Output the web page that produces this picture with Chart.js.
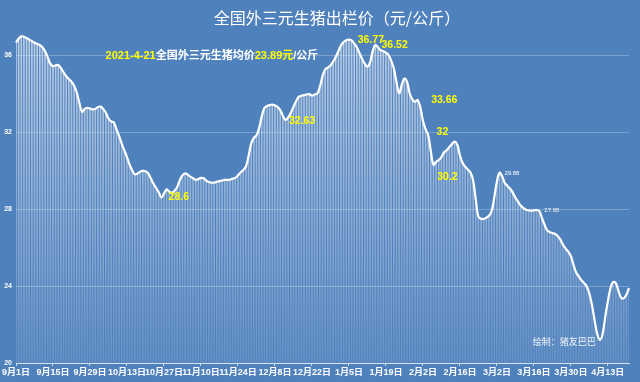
<!DOCTYPE html>
<html><head><meta charset="utf-8">
<script src="https://cdn.jsdelivr.net/npm/chart.js@4.4.1/dist/chart.umd.min.js"></script>
<style>html,body{margin:0;padding:0;background:#4f81bd;}canvas{display:block;}</style>
</head><body>
<canvas id="c" width="640" height="382"></canvas>
<script>
// Daily price series, 2020-09-01 .. 2021-04-21 (元/公斤)
const prices = [
  36.65, 36.85, 36.97, 36.95, 36.88, 36.8, 36.72, 36.64, 36.58, 36.52,
  36.4, 36.2, 35.88, 35.55, 35.42, 35.46, 35.48, 35.32, 35.1, 34.9,
  34.75, 34.62, 34.4, 34.05, 33.5, 33.05, 33.2, 33.26, 33.22, 33.18,
  33.2, 33.3, 33.32, 33.2, 33.0, 32.7, 32.55, 32.5, 32.15, 31.8,
  31.4, 31.05, 30.7, 30.3, 30.0, 29.8, 29.85, 29.94, 29.98, 29.96,
  29.86, 29.6, 29.33, 29.1, 28.88, 28.6, 28.8, 29.02, 28.9, 28.85,
  28.95, 29.15, 29.5, 29.75, 29.85, 29.78, 29.68, 29.6, 29.52, 29.55,
  29.62, 29.6, 29.48, 29.4, 29.37, 29.37, 29.42, 29.45, 29.48, 29.51,
  29.51, 29.52, 29.58, 29.62, 29.75, 29.9, 30.02, 30.2, 30.75, 31.4,
  31.7, 31.82, 32.2, 32.8, 33.25, 33.35, 33.4, 33.42, 33.38, 33.3,
  33.14, 32.85, 32.63, 32.75, 33.0, 33.3, 33.6, 33.83, 33.88, 33.92,
  33.95, 33.97, 33.89, 33.95, 34.0, 34.35, 34.9, 35.25, 35.35, 35.45,
  35.65, 35.9, 36.2, 36.5, 36.68, 36.77, 36.8, 36.76, 36.6, 36.4,
  36.1, 35.8, 35.55, 35.4, 35.62, 36.2, 36.52, 36.4, 36.25, 36.2,
  36.12, 36.0, 35.7, 35.3, 34.6, 34.02, 34.45, 34.78, 34.6, 34.0,
  33.7, 33.57, 33.66, 33.3, 32.6, 32.15, 31.85, 31.0, 30.3, 30.45,
  30.55, 30.7, 30.95, 31.05, 31.22, 31.38, 31.5, 31.35, 30.8, 30.4,
  30.2, 30.05, 29.9, 29.5, 28.5, 27.6, 27.5, 27.48, 27.55, 27.65,
  27.9, 28.6, 29.42, 29.88, 29.7, 29.35, 29.2, 29.05, 28.85, 28.6,
  28.38, 28.18, 28.05, 27.96, 27.93, 27.92, 27.93, 27.95, 27.9, 27.55,
  27.2, 26.9, 26.8, 26.75, 26.7, 26.6, 26.42, 26.15, 25.95, 25.78,
  25.55, 25.1, 24.7, 24.5, 24.3, 24.15, 23.98, 23.6, 23.0, 22.2,
  21.5, 21.2, 21.5, 22.4, 23.2, 23.9, 24.2, 24.15, 23.75, 23.4,
  23.36, 23.55, 23.89
];
const tickLabels = ['9月1日','9月15日','9月29日','10月13日','10月27日','11月10日','11月24日','12月8日','12月22日','1月5日','1月19日','2月2日','2月16日','3月2日','3月16日','3月30日','4月13日'];
const tickEvery = 14;
const categories = prices.map((_, i) => {
  const d = new Date(2020, 8, 1 + i);
  return (d.getMonth() + 1) + '月' + d.getDate() + '日';
});
const yMin = 20, yMax = 37.3, yStep = 4;
const titleText = '全国外三元生猪出栏价（元/公斤）';
const YEL = '#ffff00', WHT = '#ffffff';
const noteParts = [['2021-4-21', YEL], ['全国外三元生猪均价', WHT], ['23.89元', YEL], ['/公斤', WHT]];
const noteAnchor = {i: 33.9, v: 35.94};
// value labels: [text, day-index anchor (centre), value anchor, colour, size]
const valueLabels = [
  ['36.77', 134.3, 36.78, YEL, 10.5],
  ['36.52', 143.3, 36.52, YEL, 10.5],
  ['32.63', 108.3, 32.57, YEL, 10.5],
  ['33.66', 162.1, 33.66, YEL, 10.5],
  ['32',    161.4, 32.0,  YEL, 10.5],
  ['30.2',  163.3, 29.66, YEL, 10.5],
  ['28.6',   61.6, 28.6,  YEL, 10.5],
  ['29.88', 187.7, 29.87, WHT, 6],
  ['27.95', 202.8, 27.95, WHT, 6]
];
const creditText = '绘制：猪友巴巴';
const creditAnchor = {i: 195.6, v: 21.09};

const NUMF = '"Liberation Sans", "Noto Sans CJK SC", sans-serif';
const CJKF = '"Noto Sans CJK SC", "Liberation Sans", sans-serif';

const decor = {
  id: 'decor',
  beforeDraw(chart) {
    const c = chart.ctx;
    c.save();
    c.fillStyle = '#4f81bd';
    c.fillRect(0, 0, chart.width, chart.height);
    c.restore();
  },
  afterDraw(chart) {
    const c = chart.ctx, xs = chart.scales.x, ys = chart.scales.y;
    c.save();
    c.fillStyle = '#ffffff';
    c.font = '16px ' + CJKF;
    c.textAlign = 'center';
    c.textBaseline = 'middle';
    c.fillText(titleText, 337, 18);
    c.textAlign = 'left';
    let x = xs.getPixelForValue(noteAnchor.i);
    const ny = ys.getPixelForValue(noteAnchor.v);
    c.font = 'bold 11px ' + NUMF;
    for (const [t, col] of noteParts) {
      c.fillStyle = col;
      c.fillText(t, x, ny);
      x += c.measureText(t).width;
    }
    c.textAlign = 'center';
    for (const [t, i, v, col, sz] of valueLabels) {
      c.fillStyle = col;
      c.font = (sz > 8 ? 'bold ' : '') + sz + 'px ' + NUMF;
      c.fillText(t, xs.getPixelForValue(i), ys.getPixelForValue(v));
    }
    c.textAlign = 'left';
    c.fillStyle = 'rgba(255,255,255,0.9)';
    c.font = '9px ' + CJKF;
    c.fillText(creditText, xs.getPixelForValue(creditAnchor.i), ys.getPixelForValue(creditAnchor.v));
    c.restore();
  }
};

new Chart(document.getElementById('c'), {
  type: 'bar',
  data: {
    labels: categories,
    datasets: [
      {
        type: 'line', data: prices, order: 0,
        borderColor: '#ffffff', borderWidth: 2.2, tension: 0.4,
        pointRadius: 0, fill: false
      },
      {
        type: 'bar', data: prices, order: 1, base: yMin,
        barThickness: 1,
        backgroundColor: (ctx) => {
          const area = ctx.chart.chartArea;
          if (!area) return 'rgba(255,255,255,0.5)';
          const g = ctx.chart.ctx.createLinearGradient(0, area.top, 0, area.bottom);
          g.addColorStop(0, 'rgba(255,255,255,0.62)');
          g.addColorStop(1, 'rgba(255,255,255,0.12)');
          return g;
        }
      }
    ]
  },
  options: {
    responsive: false, animation: false,
    layout: {padding: {top: 30, right: 11, left: 0, bottom: 0}},
    plugins: {legend: {display: false}, tooltip: {enabled: false}, title: {display: false}},
    scales: {
      x: {
        offset: false,
        grid: {display: true, offset: false, drawOnChartArea: false, drawTicks: true, tickLength: 3, tickColor: 'rgba(255,255,255,0.7)'},
        border: {display: true, color: 'rgba(255,255,255,0.7)', width: 1},
        ticks: {
          autoSkip: false, maxRotation: 0, minRotation: 0, color: '#ffffff', padding: 1,
          font: {size: 9, weight: 'bold', family: NUMF},
          callback: (v) => tickLabels[v / tickEvery]
        },
        afterBuildTicks: (s) => { s.ticks = s.ticks.filter(t => t.value % tickEvery === 0); },
        afterFit: (s) => { s.height = 19; }
      },
      y: {
        min: yMin, max: yMax,
        ticks: {stepSize: yStep, includeBounds: false, color: '#ffffff', padding: 4, font: {size: 7, weight: 'bold', family: NUMF}},
        grid: {color: 'rgba(255,255,255,0.25)', drawTicks: false, lineWidth: 1},
        border: {display: false},
        afterFit: (s) => { s.width = 16; }
      }
    }
  },
  plugins: [decor]
});
</script>
</body></html>
